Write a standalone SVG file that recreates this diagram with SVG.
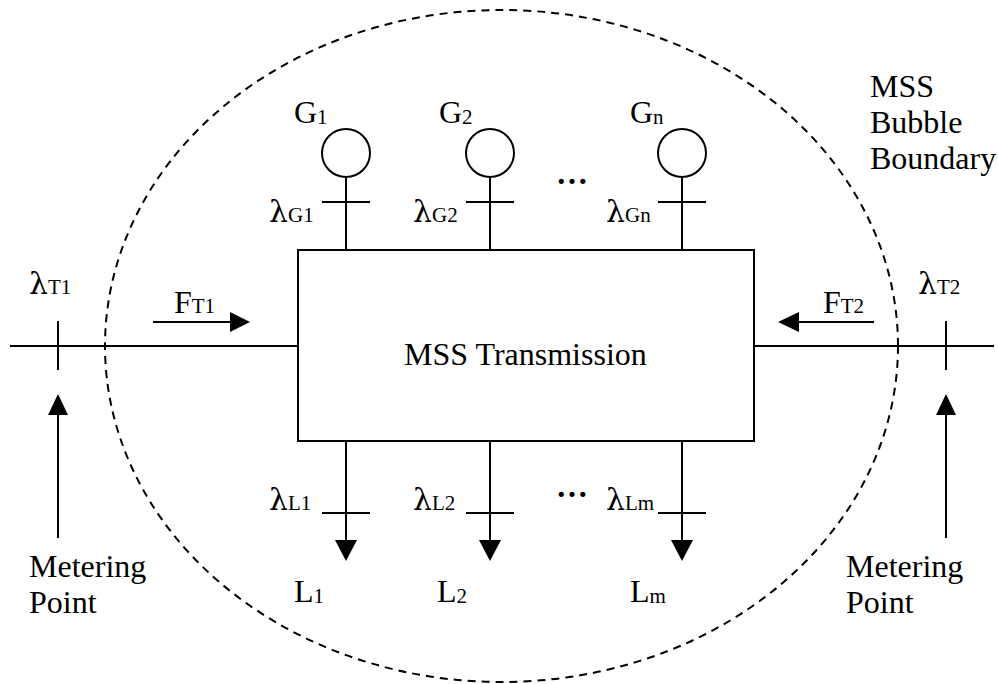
<svg xmlns="http://www.w3.org/2000/svg" width="998" height="684" viewBox="0 0 998 684">
<style>
.ln{stroke:#000;stroke-width:2;fill:none}
.hd{fill:#000;stroke:none}
.t{font-family:"Liberation Serif","Times New Roman",serif;font-size:32px;fill:#000}
.s{font-size:21px}
.lam{font-family:"DejaVu Serif","Liberation Serif",serif;font-size:30px}
</style>
<rect width="998" height="684" fill="#fff"/>
<g id="boundary">
<ellipse cx="501.5" cy="346" rx="396.5" ry="336" fill="none" stroke="#000" stroke-width="2" stroke-dasharray="8,6"/>
</g>
<g id="transmission">
<rect x="298" y="250" width="456" height="191" class="ln"/>
<text x="404" y="365" class="t">MSS Transmission</text>
</g>
<g id="connectors">
<path class="ln" d="M10 346H298M754 346H994M58 321V370M946 321V370"/>
<path class="ln" d="M58 538V412M946 538V412"/>
<polygon class="hd" points="58,394 48,415 68,415"/>
<polygon class="hd" points="946,394 936,415 956,415"/>
<path class="ln" d="M153 322H232M874 322H796"/>
<polygon class="hd" points="250,322 230,312 230,332"/>
<polygon class="hd" points="778,322 799,312 799,332"/>
<path class="ln" d="M346 177V250M490 177V250M682 177V250M322 202H370M466 202H514M658 202H706"/>
<path class="ln" d="M346 441V542M490 441V542M682 441V542M322 513H370M466 513H514M658 513H706"/>
<polygon class="hd" points="335,540 346,561 357,540"/>
<polygon class="hd" points="479,540 490,561 501,540"/>
<polygon class="hd" points="671,540 682,561 693,540"/>
</g>
<g id="G1"><circle cx="346" cy="153" r="24" class="ln"/><text x="294" y="123" class="t">G<tspan class="s" dy="1">1</tspan></text><text x="269" y="222" class="t"><tspan class="lam">λ</tspan><tspan class="s">G1</tspan></text></g>
<g id="G2"><circle cx="490" cy="153" r="24" class="ln"/><text x="439" y="123" class="t">G<tspan class="s" dy="1">2</tspan></text><text x="413" y="222" class="t"><tspan class="lam">λ</tspan><tspan class="s">G2</tspan></text></g>
<g id="Gn"><circle cx="682" cy="153" r="24" class="ln"/><text x="630" y="123" class="t">G<tspan class="s" dy="1">n</tspan></text><text x="606" y="222" class="t"><tspan class="lam">λ</tspan><tspan class="s">Gn</tspan></text></g>
<g id="dots"><text x="556" y="184" class="t" font-weight="bold" font-size="30">…</text><text x="556" y="497" class="t" font-weight="bold" font-size="30">…</text></g>
<g id="L1"><text x="269" y="510" class="t"><tspan class="lam">λ</tspan><tspan class="s">L1</tspan></text><text x="294" y="602" class="t">L<tspan class="s" dy="1">1</tspan></text></g>
<g id="L2"><text x="413" y="510" class="t"><tspan class="lam">λ</tspan><tspan class="s">L2</tspan></text><text x="437" y="602" class="t">L<tspan class="s" dy="1">2</tspan></text></g>
<g id="Lm"><text x="606" y="510" class="t"><tspan class="lam">λ</tspan><tspan class="s">Lm</tspan></text><text x="630" y="602" class="t">L<tspan class="s" dy="1">m</tspan></text></g>
<g id="T1"><text x="29" y="294" class="t"><tspan class="lam">λ</tspan><tspan class="s">T1</tspan></text><text x="174" y="313" class="t">F<tspan class="s">T1</tspan></text></g>
<g id="T2"><text x="918" y="294" class="t"><tspan class="lam">λ</tspan><tspan class="s">T2</tspan></text><text x="823" y="313" class="t">F<tspan class="s">T2</tspan></text></g>
<g id="meter-left"><text x="29" y="577" class="t">Metering</text><text x="29" y="613" class="t">Point</text></g>
<g id="meter-right"><text x="846" y="577" class="t">Metering</text><text x="846" y="613" class="t">Point</text></g>
<g id="label-boundary"><text x="870" y="97" class="t">MSS</text><text x="870" y="133" class="t">Bubble</text><text x="870" y="169" class="t">Boundary</text></g>
</svg>
